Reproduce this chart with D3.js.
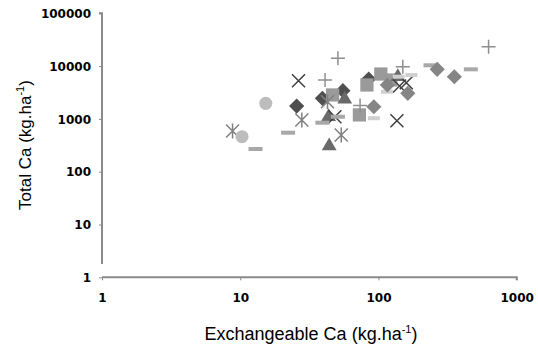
<!DOCTYPE html>
<html><head><meta charset="utf-8">
<script src="https://cdn.jsdelivr.net/npm/d3@7"></script>
<style>body{margin:0;background:#fff}svg{display:block}</style>
</head><body>
<svg id="c" width="538" height="360"></svg>
<script>
// Series data: [exchangeable Ca, total Ca]
const darkDiamonds = [[25.6,1750],[39.3,2450],[55.3,3420],[85,5700]];
const squares = [[46.6,2840],[72.8,1190],[82.5,4390],[104,7080],[123,5460]];
const triangles = [[44,307],[57,2350],[43.6,1100],[138,6290]];
const xMarks = [[26.4,5300],[48.4,1100],[136,925],[142,4200],[159,4850]];
const asterisks = [[8.8,590],[27.9,955],[42.8,2120],[53.8,495]];
const circles = [[10.3,460],[15.3,1970]];
const pluses = [[50.9,14060],[41.1,5460],[73.6,1800],[150,9750],[626,23300]];
const dashes = [[12.9,269],[22.2,548],[39.3,847],[50.9,1100],[238,10350],[466,8690]];
const lightDashes = [[92.6,1030],[115,3270],[140,6300],[173,6770]];
const greyDiamonds = [[92.6,1700],[116,4390],[163,3050],[266,8690],[354,6290]];

const xTicks = [1,10,100,1000];
const yTicks = [1,10,100,1000,10000,100000];

const svg = d3.select("#c");
const x = d3.scaleLog().domain([1,1000]).range([102,516.7]);
const y = d3.scaleLog().domain([1,100000]).range([277.3,13.3]);

const axisColor = "#8a8a8a";
const xAxis = d3.axisBottom(x).tickValues(xTicks).tickSize(3).tickFormat(d3.format("d"));
const yAxis = d3.axisLeft(y).tickValues(yTicks).tickSize(3).tickFormat(d3.format("d"));

const gx = svg.append("g").attr("transform","translate(0,277.3)").call(xAxis);
const gy = svg.append("g").attr("transform","translate(102,0)").call(yAxis);
[gx,gy].forEach(g=>{
  g.select(".domain").attr("stroke",axisColor).attr("stroke-width",2);
  g.selectAll(".tick line").attr("stroke",axisColor).attr("stroke-width",1);
  g.selectAll(".tick text").attr("fill","#000").attr("font-family","DejaVu Sans").attr("font-weight","bold").attr("font-size",12);
});
gx.select(".domain").attr("d","M102,0H516.7V3");
gy.select(".domain").attr("d","M-3,13.3H0V264");
gx.selectAll(".tick text").attr("dy","0").attr("y",25);
gy.selectAll(".tick text").attr("x",-11).attr("dy","0.35em");

const plot = svg.append("g");
function filled(data, sym, size, color, rot){
  plot.selectAll(null).data(data).enter().append("path")
    .attr("d", d3.symbol().type(sym).size(size)())
    .attr("transform", d=>`translate(${x(d[0])},${y(d[1])}) rotate(${rot||0})`)
    .attr("fill", color);
}
function stroked(data, pathStr, color, w){
  plot.selectAll(null).data(data).enter().append("path")
    .attr("d", pathStr)
    .attr("transform", d=>`translate(${x(d[0])},${y(d[1])})`)
    .attr("fill","none").attr("stroke", color).attr("stroke-width", w);
}
const r=6.5;
filled(darkDiamonds, d3.symbolSquare, 115, "#4f4f4f", 45);
filled(squares, d3.symbolSquare, 175, "#9a9a9a", 0);
filled(triangles, d3.symbolTriangle, 95, "#6a6a6a", 0);
stroked(xMarks, `M${-r},${-r}L${r},${r}M${-r},${r}L${r},${-r}`, "#3f3f3f", 1.5);
stroked(asterisks, `M${-r},${-r}L${r},${r}M${-r},${r}L${r},${-r}M0,${-r-1}L0,${r+1}`, "#808080", 1.5);
filled(circles, d3.symbolCircle, 135, "#bdbdbd", 0);
stroked(pluses, `M-7,0H7M0,-7V7`, "#8e8e8e", 1.5);
plot.selectAll(null).data(dashes).enter().append("rect")
  .attr("x", d=>x(d[0])-7).attr("y", d=>y(d[1])-2).attr("width",14).attr("height",4).attr("fill","#a8a8a8");
plot.selectAll(null).data(lightDashes).enter().append("rect")
  .attr("x", d=>x(d[0])-6).attr("y", d=>y(d[1])-2).attr("width",12).attr("height",4).attr("fill","#cfcfcf");
filled(greyDiamonds, d3.symbolSquare, 115, "#858585", 45);

// Axis titles
const xt = svg.append("text").attr("x",311).attr("y",340).attr("text-anchor","middle")
  .attr("font-family","Liberation Sans").attr("font-size",18).attr("fill","#000");
xt.append("tspan").text("Exchangeable Ca (kg.ha");
xt.append("tspan").text("-1").attr("font-size",11).attr("dy",-7);
xt.append("tspan").text(")").attr("dy",7);

const yt = svg.append("text").attr("transform","translate(31,145) rotate(-90)").attr("text-anchor","middle")
  .attr("font-family","Liberation Sans").attr("font-size",17).attr("fill","#000");
yt.append("tspan").text("Total Ca (kg.ha");
yt.append("tspan").text("-1").attr("font-size",11).attr("dy",-7);
yt.append("tspan").text(")").attr("dy",7);
</script>
</body></html>
